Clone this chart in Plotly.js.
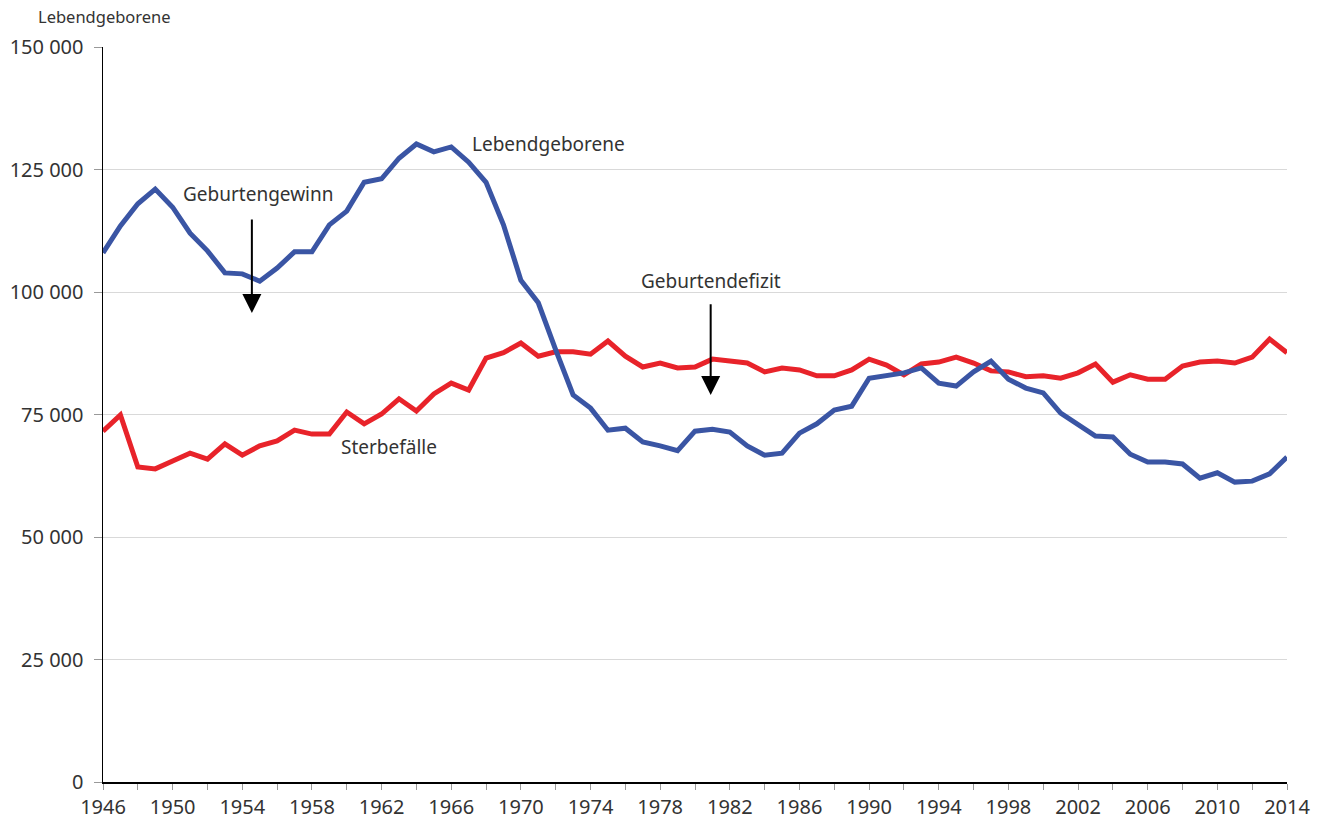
<!DOCTYPE html>
<html>
<head>
<meta charset="utf-8">
<script src="https://cdn.plot.ly/plotly-3.0.1.min.js"></script>
<style>html,body{margin:0;padding:0;background:#fff}#chart{width:1324px;height:818px}</style>
</head>
<body>
<div id="chart"></div>
<script>
const years = [];
for (let y = 1946; y <= 2014; y++) years.push(y);

const lebendgeborene = [
  108000, 113500, 118000, 121000, 117300, 112000, 108400, 103900, 103700, 102200,
  104900, 108200, 108200, 113700, 116500, 122400, 123100, 127300, 130200, 128600,
  129600, 126500, 122400, 113700, 102400, 97800, 88200, 79000, 76300, 71800,
  72200, 69400, 68600, 67600, 71600, 72000, 71400, 68600, 66700, 67100,
  71200, 73100, 75900, 76700, 82400, 83000, 83500, 84500, 81400, 80800,
  83700, 85900, 82200, 80400, 79400, 75300, 73100, 70600, 70400, 66900,
  65300, 65300, 64900, 62000, 63100, 61200, 61400, 62900, 66300
];

const sterbefaelle = [
  71600, 74900, 64300, 63900, 65500, 67100, 65900, 69000, 66700, 68600,
  69600, 71800, 71000, 71000, 75500, 73100, 75100, 78200, 75700, 79200,
  81400, 80000, 86500, 87600, 89600, 86900, 87800, 87800, 87300, 90000,
  86900, 84700, 85500, 84500, 84700, 86300, 85900, 85500, 83700, 84500,
  84100, 82900, 82900, 84100, 86300, 85100, 83100, 85300, 85700, 86700,
  85500, 83900, 83700, 82700, 82900, 82400, 83500, 85300, 81600, 83100,
  82200, 82200, 84900, 85700, 85900, 85500, 86700, 90400, 87600
];

const yTickVals = [0, 25000, 50000, 75000, 100000, 125000, 150000];
const yTickText = ["0", "25 000", "50 000", "75 000", "100 000", "125 000", "150 000"];
const xTickVals = [1946, 1950, 1954, 1958, 1962, 1966, 1970, 1974, 1978, 1982, 1986, 1990, 1994, 1998, 2002, 2006, 2010, 2014];

const FONT = "Noto Sans, Open Sans, sans-serif";
const TXT = "#333333";

const traces = [
  {x: years, y: sterbefaelle, type: "scatter", mode: "lines", name: "Sterbefälle",
   line: {color: "#e8232a", width: 5}, hoverinfo: "x+y"},
  {x: years, y: lebendgeborene, type: "scatter", mode: "lines", name: "Lebendgeborene",
   line: {color: "#3a55a4", width: 5}, hoverinfo: "x+y"}
];

const layout = {
  width: 1324, height: 818,
  margin: {l: 103, r: 37, t: 47, b: 36},
  paper_bgcolor: "#ffffff", plot_bgcolor: "#ffffff",
  showlegend: false,
  font: {family: FONT, color: TXT, size: 20},
  xaxis: {
    range: [1946, 2014], tickmode: "array", tickvals: xTickVals,
    showgrid: false, zeroline: false,
    showline: true, linecolor: "#000000", linewidth: 1.5,
    ticks: "outside", ticklen: 6, tickcolor: "#999999", tickwidth: 1,
    minor: {ticks: "outside", ticklen: 6, tickcolor: "#999999", dtick: 2, tick0: 1946},
    tickfont: {size: 20, color: TXT, family: FONT}
  },
  yaxis: {
    range: [0, 150000], tickmode: "array", tickvals: yTickVals, ticktext: yTickText,
    showgrid: true, gridcolor: "#d9d9d9", gridwidth: 1, zeroline: false,
    showline: true, linecolor: "#000000", linewidth: 1.5,
    ticks: "outside", ticklen: 8, tickcolor: "#999999",
    ticklabelstandoff: 6,
    tickfont: {size: 20, color: TXT, family: FONT}
  },
  annotations: [
    {xref: "paper", yref: "paper", x: -0.0565, y: 1.0, yshift: 31, xanchor: "left", yanchor: "middle",
     text: "Lebendgeborene", showarrow: false, font: {size: 16.5, color: TXT, family: FONT}},
    {x: 1971.6, y: 130200, text: "Lebendgeborene", showarrow: false, font: {size: 19, color: TXT, family: FONT}},
    {x: 1954.9, y: 120000, text: "Geburtengewinn", showarrow: false, font: {size: 19, color: TXT, family: FONT}},
    {x: 1980.9, y: 102200, text: "Geburtendefizit", showarrow: false, font: {size: 19, color: TXT, family: FONT}},
    {x: 1962.4, y: 68400, text: "Sterbefälle", showarrow: false, font: {size: 19, color: TXT, family: FONT}},
    {x: 1954.55, y: 95700, ax: 1954.55, ay: 115100, axref: "x", ayref: "y", text: "",
     showarrow: true, arrowhead: 2, arrowsize: 1.9, arrowwidth: 2, arrowcolor: "#000000"},
    {x: 1980.9, y: 79000, ax: 1980.9, ay: 97800, axref: "x", ayref: "y", text: "",
     showarrow: true, arrowhead: 2, arrowsize: 1.9, arrowwidth: 2, arrowcolor: "#000000"}
  ]
};

Plotly.newPlot("chart", traces, layout, {displayModeBar: false, staticPlot: true});
</script>
</body>
</html>
